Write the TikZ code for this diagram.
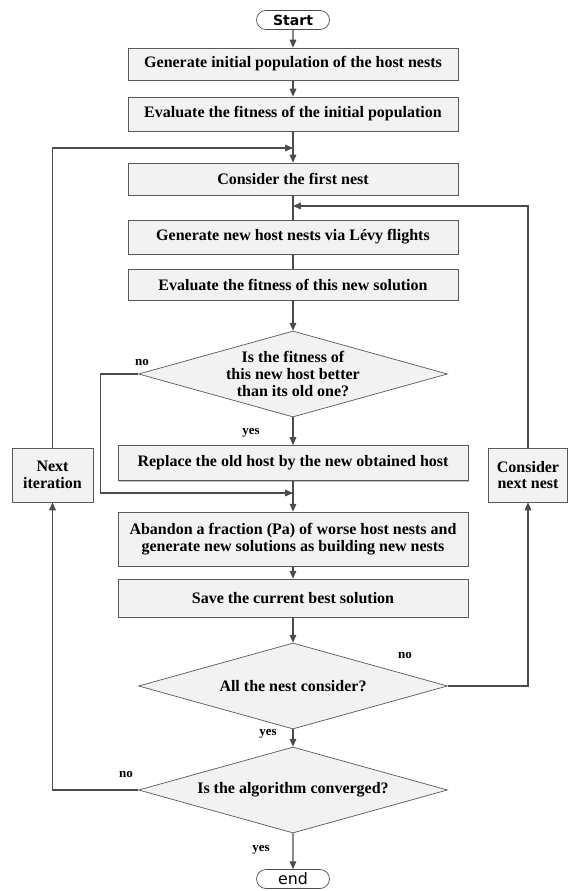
\documentclass[tikz,border=0pt]{standalone}
\usepackage{fontspec}
\setmainfont{Liberation Serif}
\newfontfamily\termfont{DejaVu Sans}
\usetikzlibrary{shapes.geometric,shapes.misc,arrows.meta,shadows}

\tikzset{
  process/.style={draw=black!65, fill=black!5, font=\bfseries\fontsize{9.1}{9.4}\selectfont,
    minimum width=6.6cm, inner sep=1pt, align=center,
    drop shadow={shadow xshift=0.8pt, shadow yshift=-0.8pt, fill=black!25, opacity=1}},
  decision/.style={diamond, draw=black!65, fill=black!5, font=\bfseries\fontsize{9.1}{9.5}\selectfont,
    minimum width=6.18cm, minimum height=1.72cm, aspect=3.6, inner sep=0pt, align=center},
  terminal/.style={rounded rectangle, draw=black!70, fill=white, font=\termfont\fontsize{8}{9.6}\selectfont,
    minimum width=1.46cm, minimum height=0.38cm, inner sep=0pt},
  lbl/.style={font=\bfseries\fontsize{7.4}{8}\selectfont, inner sep=0pt},
  line/.style={draw=black!70, line width=0.6pt},
  arrow/.style={line, -{Triangle[length=4.5pt,width=3.8pt]}}
}

\begin{document}
\begin{tikzpicture}[x=0.02cm, y=-0.02cm]
	\useasboundingbox (0,0) rectangle (567,891);
	% main column
	\node[terminal] (start) at (293,20) {\bfseries Start};
	\node[process, minimum height=0.64cm] (init) at (293,64) {Generate initial population of the host nests};
	\node[process, minimum height=0.68cm] (evalinit) at (293,114) {Evaluate the fitness of the initial population};
	\node[process, minimum height=0.64cm] (first) at (293,179) {Consider the first nest};
	\node[process, minimum height=0.68cm] (levy) at (293,237) {Generate new host nests via L\'evy flights};
	\node[process, minimum height=0.62cm] (evalnew) at (293,284.5) {Evaluate the fitness of this new solution};
	\node[decision] (better) at (293,374) {Is the fitness of\\this new host better\\than its old one?};
	\node[process, minimum width=7cm, minimum height=0.70cm] (replace) at (293,463) {Replace the old host by the new obtained host};
	\node[process, minimum width=7cm, minimum height=1.08cm] (abandon) at (293,539) {Abandon a fraction (Pa) of worse host nests and\\generate new solutions as building new nests};
	\node[process, minimum width=7cm, minimum height=0.76cm] (save) at (293,598) {Save the current best solution};
	\node[decision] (allnest) at (293,686) {All the nest consider?};
	\node[decision] (conv) at (293,790) {Is the algorithm converged?};
	\node[terminal, font=\termfont\fontsize{9}{10}\selectfont] (end) at (293,879) {end};
	% side boxes
	\node[process, minimum width=1.62cm, minimum height=1.08cm] (next) at (52.5,475) {Next\\iteration};
	\node[process, minimum width=1.58cm, minimum height=1.08cm] (consider) at (528,475) {Consider\\next nest};
	% joins
	\coordinate (j1) at (293,148);
	\coordinate (j2) at (293,206);
	\coordinate (j3) at (293,493);
	% labels
	\node[lbl] (no1) at (142,362) {no};
	\node[lbl] (yes1) at (251,433) {yes};
	\node[lbl] (no2) at (405,655) {no};
	\node[lbl] (yes2) at (268,734) {yes};
	\node[lbl] (no3) at (126,774) {no};
	\node[lbl] (yes3) at (261,850) {yes};
	% connectors
	\draw[arrow] (start) -- (init);
	\draw[arrow] (init) -- (evalinit);
	\draw[arrow] (evalinit) -- (first);
	\draw[line] (first) -- (levy);
	\draw[line] (levy) -- (evalnew);
	\draw[arrow] (evalnew) -- (better);
	\draw[arrow] (better) -- (replace);
	\draw[arrow] (better.west) -- ++(-38,0) |- (j3);
	\draw[arrow] (replace) -- (abandon);
	\draw[arrow] (abandon) -- (save);
	\draw[arrow] (save) -- (allnest);
	\draw[arrow] (allnest.east) -| (consider.south);
	\draw[arrow] (consider.north) |- (j2);
	\draw[arrow] (allnest) -- (conv);
	\draw[arrow] (conv.west) -| (next.south);
	\draw[arrow] (next.north) |- (j1);
	\draw[arrow] (conv) -- (end);
\end{tikzpicture}
\end{document}
